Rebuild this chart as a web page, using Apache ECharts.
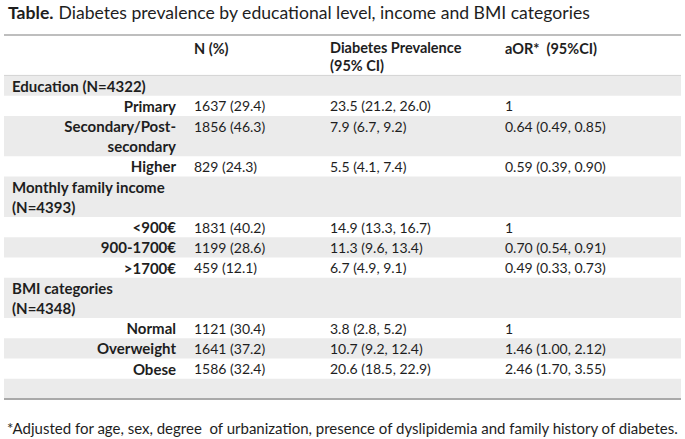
<!DOCTYPE html>
<html>
<head>
<meta charset="utf-8">
<script src="https://cdn.jsdelivr.net/npm/echarts@6/dist/echarts.min.js"></script>
<style>
  html, body { margin: 0; padding: 0; background: #fff; }
  #chart { width: 685px; height: 439px; }
</style>
</head>
<body>
<div id="chart"></div>
<script>
// ----- table data -----
var groups = ['Education (N=4322)', 'Monthly family income\n(N=4393)', 'BMI categories\n(N=4348)'];
var categories = ['Primary', 'Secondary/Post-\nsecondary', 'Higher', '<900€', '900-1700€', '>1700€', 'Normal', 'Overweight', 'Obese'];
var groupOf = [0, 0, 0, 1, 1, 1, 2, 2, 2];
var nCount = [1637, 1856, 829, 1831, 1199, 459, 1121, 1641, 1586];
var nPercent = [29.4, 46.3, 24.3, 40.2, 28.6, 12.1, 30.4, 37.2, 32.4];
var prevalence = [23.5, 7.9, 5.5, 14.9, 11.3, 6.7, 3.8, 10.7, 20.6];
var prevLow = [21.2, 6.7, 4.1, 13.3, 9.6, 4.9, 2.8, 9.2, 18.5];
var prevHigh = [26.0, 9.2, 7.4, 16.7, 13.4, 9.1, 5.2, 12.4, 22.9];
var aor = [1, 0.64, 0.59, 1, 0.70, 0.49, 1, 1.46, 2.46];
var aorLow = [null, 0.49, 0.39, null, 0.54, 0.33, null, 1.00, 1.70];
var aorHigh = [null, 0.85, 0.90, null, 0.91, 0.73, null, 2.12, 3.55];
var headers = ['N (%)', 'Diabetes Prevalence\n(95% CI)', 'aOR*  (95%CI)'];

var titleText = 'Diabetes prevalence by educational level, income and BMI categories';
var footnote = '*Adjusted for age, sex, degree  of urbanization, presence of dyslipidemia and family history of diabetes.';

// ----- look -----
var ink = '#1e1e1e';
var band = '#ebebeb';
var rule = '#a9a9a9';
var font = 'Lato, "Open Sans", sans-serif';
var fsLabel = 15, fsValue = 14, fsHead = 14.5;
var cols = { left: 4, right: 681, groupX: 12, labelRight: 176, n: 194, prev: 330, aor: 505 };

// build rows (in line units, header takes 2)
var rows = [];
var unit = 0;
function addRow(r) {
  r.units = (r.label.indexOf('\n') >= 0) ? 2 : 1;
  r.start = unit;
  r.shaded = rows.length % 2 === 0;
  unit += r.units;
  rows.push(r);
}
groups.forEach(function (g, gi) {
  addRow({ label: g, kind: 'group', cells: null });
  categories.forEach(function (c, i) {
    if (groupOf[i] !== gi) return;
    addRow({
      label: c, kind: 'cat',
      cells: [
        nCount[i] + ' (' + nPercent[i].toFixed(1) + ')',
        prevalence[i].toFixed(1) + ' (' + prevLow[i].toFixed(1) + ', ' + prevHigh[i].toFixed(1) + ')',
        aorLow[i] == null ? String(aor[i]) : aor[i].toFixed(2) + ' (' + aorLow[i].toFixed(2) + ', ' + aorHigh[i].toFixed(2) + ')'
      ]
    });
  });
});
addRow({ label: '', kind: 'empty', cells: null });
var totalUnits = unit;

var seriesData = [[0, -2, 2, -1]].concat(rows.map(function (r, i) { return [0, r.start, r.units, i]; }));

function txt(text, x, y, align, vAlign, bold, size, lh) {
  return {
    type: 'text',
    style: {
      text: text, x: x, y: y,
      textAlign: align, textVerticalAlign: vAlign,
      font: (bold ? 'bold ' : '') + size + 'px ' + font,
      lineHeight: lh || 20,
      fill: ink
    }
  };
}

var chart = echarts.init(document.getElementById('chart'), null, { renderer: 'svg' });
chart.setOption({
  animation: false,
  title: [{
    left: 3, top: -2,
    text: '{b|Table.} {n|' + titleText + '}',
    textStyle: {
      rich: {
        b: { fontFamily: font, fontSize: 17.6, fontWeight: 'bold', color: ink },
        n: { fontFamily: font, fontSize: 17.6, fontWeight: 'normal', color: ink }
      }
    }
  }, {
    left: 2, top: 415,
    text: footnote,
    textStyle: { fontFamily: font, fontSize: 15, fontWeight: 'normal', color: ink }
  }],
  grid: { left: 0, right: 0, top: 35, bottom: 40 },
  xAxis: { type: 'value', min: 0, max: 685, show: false },
  yAxis: { type: 'value', min: -2, max: totalUnits, inverse: true, show: false },
  series: [{
    type: 'custom',
    data: seriesData,
    encode: { x: 0, y: 1 },
    renderItem: function (params, api) {
      var start = api.value(1), units = api.value(2), idx = api.value(3);
      var top = api.coord([0, start])[1];
      var bot = api.coord([0, start + units])[1];
      var X = function (v) { return api.coord([v, 0])[0]; };
      var kids = [];
      if (idx < 0) {
        kids.push(txt(headers[0], X(cols.n), top + 3, 'left', 'top', true, fsHead));
        kids.push(txt(headers[1], X(cols.prev), top + 3, 'left', 'top', true, fsHead, 18));
        kids.push(txt(headers[2], X(cols.aor), top + 3, 'left', 'top', true, fsHead));
        kids.push({ type: 'line', shape: { x1: X(cols.left), y1: top, x2: X(cols.right), y2: top }, style: { stroke: rule, lineWidth: 1.5 } });
        kids.push({ type: 'line', shape: { x1: X(cols.left), y1: bot, x2: X(cols.right), y2: bot }, style: { stroke: '#bdbdbd', lineWidth: 1 } });
        return { type: 'group', children: kids };
      }
      var r = rows[idx];
      var mid = (top + bot) / 2;
      if (r.shaded) {
        kids.push({ type: 'rect', shape: { x: X(cols.left), y: top, width: X(cols.right) - X(cols.left), height: bot - top }, style: { fill: band } });
      }
      if (r.kind === 'group') {
        kids.push(txt(r.label, X(cols.groupX), mid, 'left', 'middle', true, fsLabel));
      } else if (r.kind === 'cat') {
        kids.push(txt(r.label, X(cols.labelRight), mid, 'right', 'middle', true, fsLabel));
        var cy = r.units > 1 ? top + (bot - top) / 4 : mid;
        kids.push(txt(r.cells[0], X(cols.n), cy, 'left', 'middle', false, fsValue));
        kids.push(txt(r.cells[1], X(cols.prev), cy, 'left', 'middle', false, fsValue));
        kids.push(txt(r.cells[2], X(cols.aor), cy, 'left', 'middle', false, fsValue));
      } else {
        kids.push({ type: 'line', shape: { x1: X(cols.left), y1: bot, x2: X(cols.right), y2: bot }, style: { stroke: rule, lineWidth: 2 } });
      }
      return { type: 'group', children: kids };
    }
  }]
});
window.addEventListener('resize', function () { chart.resize(); });
</script>
</body>
</html>
